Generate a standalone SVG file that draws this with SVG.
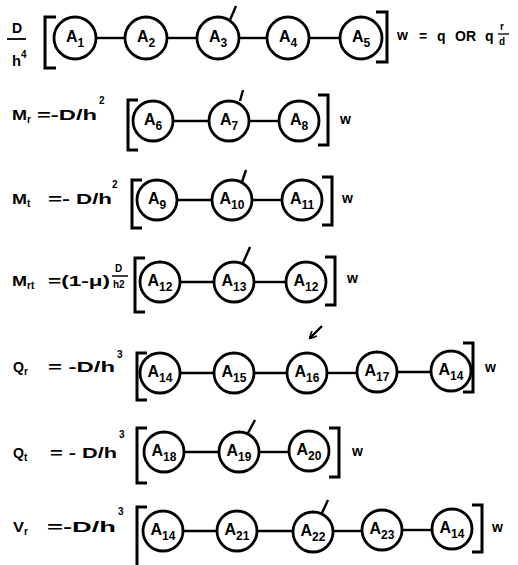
<svg xmlns="http://www.w3.org/2000/svg" width="518" height="565" viewBox="0 0 518 565">
<defs>
<style>
.nd circle{fill:#fff;stroke:#000;stroke-width:2.8}
.nd text{font-family:"Liberation Sans",Arial,sans-serif;font-weight:bold;font-size:16px;text-anchor:middle;fill:#000}
.nd tspan{font-size:12px}
.c line{stroke:#000;stroke-width:2.4}
.br{fill:none;stroke:#000;stroke-width:3}
.t text{font-family:"Liberation Sans",Arial,sans-serif;font-weight:bold;font-size:14px;fill:#000}
.t text.s{font-size:10px}
</style>
<marker id="ah" markerWidth="8" markerHeight="8" refX="7" refY="4" orient="auto" markerUnits="userSpaceOnUse">
<path d="M0,0 L8,4 L0,8" fill="none" stroke="#000" stroke-width="1.6"/>
</marker>
</defs>
<rect width="518" height="565" fill="#fff"/>

<!-- left labels -->
<g class="t">
<text x="12" y="33">D</text>
<line x1="7" y1="39" x2="26" y2="39" stroke="#000" stroke-width="1.8"/>
<text x="12" y="66" textLength="9" lengthAdjust="spacingAndGlyphs">h</text>
<text class="s" x="21" y="58">4</text>

<text x="12" y="120" textLength="15" lengthAdjust="spacingAndGlyphs">M</text>
<text class="s" x="27" y="123">r</text>
<text x="37" y="120" textLength="60" lengthAdjust="spacingAndGlyphs">=-D/h</text>
<text class="s" x="99" y="104">2</text>

<text x="12" y="204" textLength="15" lengthAdjust="spacingAndGlyphs">M</text>
<text class="s" x="27" y="207">t</text>
<text x="48" y="204" textLength="22" lengthAdjust="spacingAndGlyphs">=-</text>
<text x="76" y="204" textLength="36" lengthAdjust="spacingAndGlyphs">D/h</text>
<text class="s" x="112" y="188">2</text>

<text x="12" y="286" textLength="15" lengthAdjust="spacingAndGlyphs">M</text>
<text class="s" x="27" y="289">rt</text>
<text x="48" y="286" textLength="62" lengthAdjust="spacingAndGlyphs">=(1-μ)</text>
<text class="s" x="115" y="272" font-size="12">D</text>
<line x1="112" y1="276" x2="128" y2="276" stroke="#000" stroke-width="1.5"/>
<text class="s" x="113" y="288">h2</text>

<text x="13" y="372" textLength="11" lengthAdjust="spacingAndGlyphs">Q</text>
<text class="s" x="24" y="375">r</text>
<text x="48" y="372" textLength="67" lengthAdjust="spacingAndGlyphs">= -D/h</text>
<text class="s" x="117" y="358">3</text>

<text x="13" y="458" textLength="11" lengthAdjust="spacingAndGlyphs">Q</text>
<text class="s" x="24" y="461">t</text>
<text x="50" y="458" textLength="67" lengthAdjust="spacingAndGlyphs">= - D/h</text>
<text class="s" x="119" y="438">3</text>

<text x="13" y="532" textLength="11" lengthAdjust="spacingAndGlyphs">V</text>
<text class="s" x="24" y="535">r</text>
<text x="47" y="532" textLength="69" lengthAdjust="spacingAndGlyphs">=-D/h</text>
<text class="s" x="118" y="515">3</text>
</g>

<!-- right labels -->
<g class="t">
<text x="397" y="40">w</text>
<text x="419" y="41">=</text>
<text x="437" y="41">q</text>
<text x="455" y="41">OR</text>
<text x="485" y="41">q</text>
<text class="s" x="500" y="30">r</text>
<line x1="498" y1="34" x2="509" y2="34" stroke="#000" stroke-width="1.3"/>
<text class="s" x="499" y="45">d</text>
<text x="340" y="124">w</text>
<text x="342" y="203">w</text>
<text x="347" y="283">w</text>
<text x="485" y="372">w</text>
<text x="352" y="456">w</text>
<text x="492" y="532">w</text>
</g>

<!-- brackets -->
<g>
<path class="br" d="M56,17 H45 V68 H56"/><path class="br" d="M376,12 H387 V62 H376"/>
<path class="br" d="M138,100 H128 V150 H138"/><path class="br" d="M318,95 H328 V145 H318"/>
<path class="br" d="M142,180 H132 V228 H142"/><path class="br" d="M322,177 H332 V225 H322"/>
<path class="br" d="M145,258 H135 V312 H145"/><path class="br" d="M325,257 H335 V305 H325"/>
<path class="br" d="M147,353 H137 V400 H147"/><path class="br" d="M463,343 H473 V392 H463"/>
<path class="br" d="M147,428 H137 V483 H147"/><path class="br" d="M329,428 H339 V477 H329"/>
<path class="br" d="M147,507 H137 V565"/><path class="br" d="M472,505 H482 V552 H472"/>
</g>

<!-- connectors -->
<g class="c">
<line x1="96" y1="38" x2="125" y2="38"/><line x1="167" y1="38" x2="197" y2="38"/><line x1="239" y1="38" x2="267" y2="38"/><line x1="309" y1="38" x2="340" y2="38"/>
<line x1="173" y1="121" x2="209" y2="121"/><line x1="249" y1="121" x2="279" y2="121"/>
<line x1="177" y1="200" x2="212" y2="200"/><line x1="252" y1="200" x2="282" y2="200"/>
<line x1="180" y1="282" x2="214" y2="282"/><line x1="254" y1="282" x2="286" y2="282"/>
<line x1="180" y1="373" x2="214" y2="373"/><line x1="254" y1="373" x2="287" y2="373"/><line x1="327" y1="373" x2="357" y2="373"/><line x1="397" y1="372" x2="431" y2="372"/>
<line x1="184" y1="452" x2="219" y2="452"/><line x1="259" y1="452" x2="289" y2="452"/>
<line x1="183" y1="531" x2="217" y2="531"/><line x1="257" y1="531" x2="293" y2="531"/><line x1="333" y1="531" x2="362" y2="531"/><line x1="402" y1="530" x2="432" y2="530"/>
<line x1="230" y1="20" x2="236" y2="6"/>
<line x1="240" y1="101" x2="243" y2="90"/>
<line x1="242" y1="182" x2="246" y2="170"/>
<line x1="243" y1="263" x2="250" y2="247"/>
<line x1="248" y1="433" x2="255" y2="420"/>
<line x1="322" y1="513" x2="328" y2="500"/>
<line x1="322" y1="326" x2="310" y2="338" stroke-width="1.6" marker-end="url(#ah)"/>
</g>

<!-- nodes -->
<g id="n1" class="nd"><circle cx="75" cy="38" r="21"/><text x="75" y="42">A<tspan dy="5">1</tspan></text></g>
<g id="n2" class="nd"><circle cx="146" cy="38" r="21"/><text x="146" y="42">A<tspan dy="5">2</tspan></text></g>
<g id="n3" class="nd"><circle cx="218" cy="38" r="21"/><text x="218" y="42">A<tspan dy="5">3</tspan></text></g>
<g id="n4" class="nd"><circle cx="288" cy="38" r="21"/><text x="288" y="42">A<tspan dy="5">4</tspan></text></g>
<g id="n5" class="nd"><circle cx="361" cy="38" r="21"/><text x="361" y="42">A<tspan dy="5">5</tspan></text></g>

<g id="n6" class="nd"><circle cx="153" cy="121" r="20"/><text x="153" y="125">A<tspan dy="5">6</tspan></text></g>
<g id="n7" class="nd"><circle cx="229" cy="121" r="20"/><text x="229" y="125">A<tspan dy="5">7</tspan></text></g>
<g id="n8" class="nd"><circle cx="299" cy="121" r="20"/><text x="299" y="125">A<tspan dy="5">8</tspan></text></g>

<g id="n9" class="nd"><circle cx="157" cy="200" r="20"/><text x="157" y="204">A<tspan dy="5">9</tspan></text></g>
<g id="n10" class="nd"><circle cx="232" cy="200" r="20"/><text x="232" y="204">A<tspan dy="5">10</tspan></text></g>
<g id="n11" class="nd"><circle cx="302" cy="200" r="20"/><text x="302" y="204">A<tspan dy="5">11</tspan></text></g>

<g id="n12" class="nd"><circle cx="160" cy="282" r="20"/><text x="160" y="286">A<tspan dy="5">12</tspan></text></g>
<g id="n13" class="nd"><circle cx="234" cy="282" r="20"/><text x="234" y="286">A<tspan dy="5">13</tspan></text></g>
<g id="n12b" class="nd"><circle cx="306" cy="282" r="20"/><text x="306" y="286">A<tspan dy="5">12</tspan></text></g>

<g id="n14" class="nd"><circle cx="160" cy="373" r="20"/><text x="160" y="377">A<tspan dy="5">14</tspan></text></g>
<g id="n15" class="nd"><circle cx="234" cy="373" r="20"/><text x="234" y="377">A<tspan dy="5">15</tspan></text></g>
<g id="n16" class="nd"><circle cx="307" cy="373" r="20"/><text x="307" y="377">A<tspan dy="5">16</tspan></text></g>
<g id="n17" class="nd"><circle cx="377" cy="372" r="20"/><text x="377" y="376">A<tspan dy="5">17</tspan></text></g>
<g id="n14b" class="nd"><circle cx="451" cy="371" r="20"/><text x="451" y="375">A<tspan dy="5">14</tspan></text></g>

<g id="n18" class="nd"><circle cx="164" cy="452" r="20"/><text x="164" y="456">A<tspan dy="5">18</tspan></text></g>
<g id="n19" class="nd"><circle cx="239" cy="452" r="20"/><text x="239" y="456">A<tspan dy="5">19</tspan></text></g>
<g id="n20" class="nd"><circle cx="309" cy="451" r="20"/><text x="309" y="455">A<tspan dy="5">20</tspan></text></g>

<g id="n14c" class="nd"><circle cx="163" cy="531" r="20"/><text x="163" y="535">A<tspan dy="5">14</tspan></text></g>
<g id="n21" class="nd"><circle cx="237" cy="531" r="20"/><text x="237" y="535">A<tspan dy="5">21</tspan></text></g>
<g id="n22" class="nd"><circle cx="313" cy="532" r="20"/><text x="313" y="536">A<tspan dy="5">22</tspan></text></g>
<g id="n23" class="nd"><circle cx="382" cy="530" r="20"/><text x="382" y="534">A<tspan dy="5">23</tspan></text></g>
<g id="n14d" class="nd"><circle cx="452" cy="529" r="20"/><text x="452" y="533">A<tspan dy="5">14</tspan></text></g>
</svg>
